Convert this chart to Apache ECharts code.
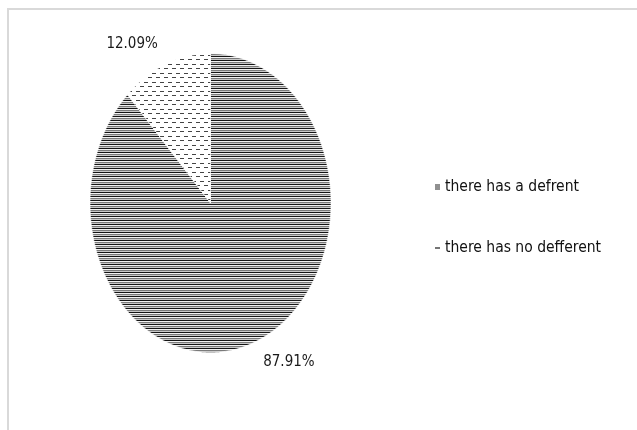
<!DOCTYPE html>
<html><head><meta charset="utf-8">
<script src="https://cdn.jsdelivr.net/npm/echarts@6/dist/echarts.min.js"></script>
<style>html,body{margin:0;padding:0;background:#fff}#c{width:637px;height:430px}</style>
</head><body><div id="c"></div>
<script>
const categories = ['there has a defrent', 'there has no defferent'];
const values = [87.91, 12.09];
const labelTexts = ['87.91%', '12.09%'];

const FONT = '"Liberation Sans Narrow", "DejaVu Sans Condensed", sans-serif';

function stripeTile() {
  const c = document.createElement('canvas'); c.width = 4; c.height = 4;
  const g = c.getContext('2d');
  g.fillStyle = '#c8c8c8'; g.fillRect(0, 0, 4, 4);
  g.fillStyle = '#141414'; g.fillRect(0, 0, 4, 1);
  g.fillStyle = '#f2f2f2'; g.fillRect(0, 1, 4, 1);
  g.fillStyle = '#7a7a7a'; g.fillRect(0, 2, 4, 1);
  return c;
}
function dashTile() {
  const c = document.createElement('canvas'); c.width = 8; c.height = 9;
  const g = c.getContext('2d');
  g.fillStyle = '#ffffff'; g.fillRect(0, 0, 8, 9);
  g.fillStyle = '#444444';
  g.fillRect(0, 1, 4, 1);
  g.fillRect(4, 5, 4, 1);
  return c;
}
const patterns = [
  { image: stripeTile(), repeat: 'repeat' },
  { image: dashTile(), repeat: 'repeat' }
];
const icons = [
  'path://M0,0H5V0.9H0Z M0,2H5V2.9H0Z M0,4H5V4.9H0Z',
  'path://M0,0H4V1H0Z'
];

const geo = { cx: 210.5, cy: 203, rx: 120.5, ry: 149.5 };
const total = values.reduce((a, b) => a + b, 0);

function renderSlice(params, api) {
  const idx = params.seriesIndex;
  let before = 0;
  for (let i = 0; i < idx; i++) before += values[i];
  const v = api.value(0);
  const a0 = before / total * Math.PI * 2 - Math.PI / 2;
  const a1 = a0 + v / total * Math.PI * 2;
  const pts = [[geo.cx, geo.cy]];
  const n = Math.max(4, Math.ceil((a1 - a0) / (Math.PI / 360)));
  for (let k = 0; k <= n; k++) {
    const a = a0 + (a1 - a0) * k / n;
    pts.push([geo.cx + geo.rx * Math.cos(a), geo.cy + geo.ry * Math.sin(a)]);
  }
  const am = (a0 + a1) / 2;
  const ex = geo.cx + geo.rx * Math.cos(am);
  const ey = geo.cy + geo.ry * Math.sin(am);
  const sx = Math.cos(am) >= 0 ? 1 : -1;
  const sy = Math.sin(am) >= 0 ? 1 : -1;
  return {
    type: 'group',
    children: [
      {
        type: 'polygon',
        shape: { points: pts },
        style: { fill: patterns[idx], stroke: '#ffffff', lineWidth: 0.6 }
      },
      {
        type: 'text',
        x: ex + sx * 8,
        y: ey + sy * 13,
        style: {
          text: labelTexts[idx],
          fill: '#1a1a1a',
          font: '15px ' + FONT,
          align: sx > 0 ? 'left' : 'right',
          verticalAlign: sy > 0 ? 'top' : 'bottom'
        }
      }
    ]
  };
}

const chart = echarts.init(document.getElementById('c'), null, { renderer: 'canvas' });
chart.setOption({
  animation: false,
  backgroundColor: '#ffffff',
  graphic: [{
    type: 'rect',
    shape: { x: 8, y: 9, width: 700, height: 500 },
    style: { fill: 'none', stroke: '#d9d9d9', lineWidth: 2 },
    silent: true
  }],
  legend: {
    orient: 'vertical',
    left: 430,
    top: 172,
    itemWidth: 5,
    itemHeight: 5,
    itemGap: 41,
    selectedMode: false,
    textStyle: { fontSize: 15.5, lineHeight: 20, fontFamily: FONT, color: '#111111', padding: [0, 0, 0, 0] },
    data: categories.map((name, i) => ({ name: name, icon: icons[i], itemStyle: { color: '#222222' } }))
  },
  series: categories.map((name, i) => ({
    type: 'custom',
    name: name,
    coordinateSystem: 'none',
    itemStyle: { color: '#222222' },
    renderItem: renderSlice,
    data: [[values[i]]]
  }))
});
</script>
</body></html>
